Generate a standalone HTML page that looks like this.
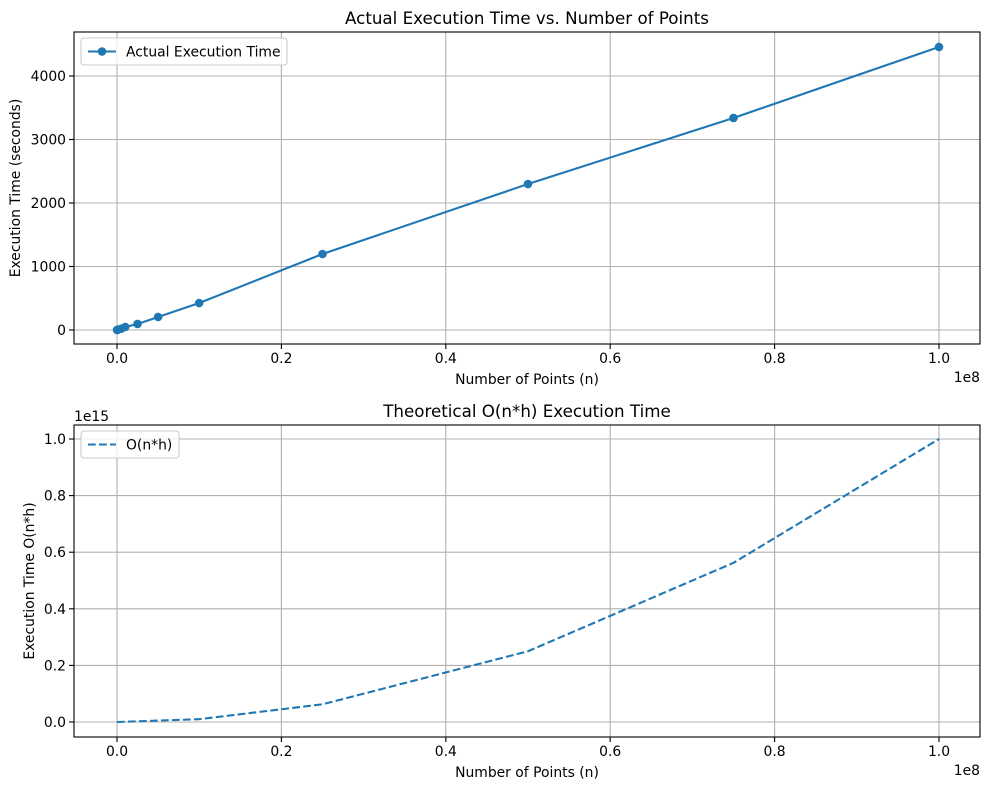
<!DOCTYPE html>
<html><head><meta charset="utf-8"><style>
body{margin:0;background:#fff;}
svg{display:block;font-family:"DejaVu Sans","Liberation Sans",sans-serif;}
</style></head><body>
<svg id="chart" width="989" height="790" xmlns="http://www.w3.org/2000/svg"></svg>
<script>
const nValues = [1e4, 1e5, 5e5, 1e6, 2.5e6, 5e6, 1e7, 2.5e7, 5e7, 7.5e7, 1e8];
const actualTimes = [0.5, 5, 20, 47, 95, 205, 425, 1197, 2299, 3339, 4457];
const theoN = [0, 1e7, 2.5e7, 5e7, 7.5e7, 1e8];
const theoValues = [0, 0.01, 0.0625, 0.25, 0.5625, 1.0];
const xTicks = [0, 0.2, 0.4, 0.6, 0.8, 1.0];
const xTickLabels = ["0.0","0.2","0.4","0.6","0.8","1.0"];
const yTicksTop = [0, 1000, 2000, 3000, 4000];
const yTicksBottom = [0, 0.2, 0.4, 0.6, 0.8, 1.0];
const yTickLabelsBottom = ["0.0","0.2","0.4","0.6","0.8","1.0"];

const NS = "http://www.w3.org/2000/svg";
const svg = document.getElementById("chart");
function mk(tag, attrs, parent, text){
  const e = document.createElementNS(NS, tag);
  for (const k in attrs) e.setAttribute(k, attrs[k]);
  if (text !== undefined) e.textContent = text;
  (parent || svg).appendChild(e);
  return e;
}
const L = 74, R = 980;
const FS = 13.9, TFS = 16.7;
function xs(v){ return 117 + v / 1e8 * 822; }

function panel(cfg){
  const g = mk("g", {});
  
  
  const T = cfg.top, B = cfg.bottom;
  xTicks.forEach((t, i) => {
    const x = xs(t * 1e8);
    const gl = mk("line", {x1:x, x2:x, y1:T, y2:B, stroke:"#b0b0b0", "stroke-width":1.1}, g);
    
    
    mk("line", {x1:x, x2:x, y1:B, y2:B+5, stroke:"#000", "stroke-width":1.1}, g);
    const tl = mk("text", {x:x, y:B+19, "font-size":FS, "text-anchor":"middle"}, g, xTickLabels[i]);
    
    
  });
  cfg.yTicks.forEach((t, i) => {
    const y = cfg.ys(t);
    const gl = mk("line", {x1:L, x2:R, y1:y, y2:y, stroke:"#b0b0b0", "stroke-width":1.1}, g);
    
    
    mk("line", {x1:L-5, x2:L, y1:y, y2:y, stroke:"#000", "stroke-width":1.1}, g);
    const tl = mk("text", {x:L-8, y:y+5, "font-size":FS, "text-anchor":"end"}, g, cfg.yLabels[i]);
    
    
  });
  const pts = cfg.xv.map((v, i) => xs(v) + "," + cfg.ys(cfg.yv[i])).join(" ");
  const line = mk("polyline", {points:pts, fill:"none", stroke:"#1f77b4", "stroke-width":2.08, "stroke-dasharray":cfg.dash || "none"}, g);
  
  
  if (cfg.markers) {
    cfg.xv.forEach((v, i) => {
      const c = mk("circle", {cx:xs(v), cy:cfg.ys(cfg.yv[i]), r:4.3, fill:"#1f77b4"}, g);
      
      
    });
  }
  const fr = mk("rect", {x:L, y:T, width:R-L, height:B-T, fill:"none", stroke:"#000", "stroke-width":1.1}, g);
  
  
  const ti = mk("text", {x:(L+R)/2, y:T-8, "font-size":TFS, "text-anchor":"middle"}, g, cfg.title);
  
  
  const xl = mk("text", {x:(L+R)/2, y:B+40, "font-size":FS, "text-anchor":"middle"}, g, "Number of Points (n)");
  
  
  const off = mk("text", {x:R, y:B+38, "font-size":FS, "text-anchor":"end"}, g, "1e8");
  
  
  const yl = mk("text", {x:0, y:0, "font-size":FS, "text-anchor":"middle", transform:`translate(${cfg.ylx},${(T+B)/2}) rotate(-90)`}, g, cfg.ylabel);
  
  
  const lg = mk("g", {}, g);
  
  
  mk("rect", {x:L+7, y:T+6, width:cfg.legW, height:27, rx:3, fill:"#fff", "fill-opacity":0.8, stroke:"#ccc", "stroke-width":1.1}, lg);
  mk("line", {x1:L+14, x2:L+42, y1:T+19.5, y2:T+19.5, stroke:"#1f77b4", "stroke-width":2.08, "stroke-dasharray":cfg.dash || "none"}, lg);
  if (cfg.markers) mk("circle", {cx:L+28, cy:T+19.5, r:4.3, fill:"#1f77b4"}, lg);
  const lt = mk("text", {x:L+52, y:T+24.5, "font-size":FS}, lg, cfg.seriesLabel);
  
  
  return g;
}

panel({name:"actual-time-panel", top:32, bottom:344, title:"Actual Execution Time vs. Number of Points",
  ys: v => 330 - v * 0.0635, yTicks:yTicksTop, yLabels:yTicksTop.map(String),
  xv:nValues, yv:actualTimes, markers:true, seriesName:"actual-time-line",
  seriesLabel:"Actual Execution Time", legW:206, ylabel:"Execution Time (seconds)", ylx:20});

const bp = panel({name:"theoretical-panel", top:425, bottom:737, title:"Theoretical O(n*h) Execution Time",
  ys: v => 722 - v * 283, yTicks:yTicksBottom, yLabels:yTickLabelsBottom,
  xv:theoN, yv:theoValues, markers:false, dash:"7.7,3.3", seriesName:"theoretical-line",
  seriesLabel:"O(n*h)", legW:98, ylabel:"Execution Time O(n*h)", ylx:34});
const ex = mk("text", {x:L, y:421, "font-size":FS}, bp, "1e15");


</script>
</body></html>
